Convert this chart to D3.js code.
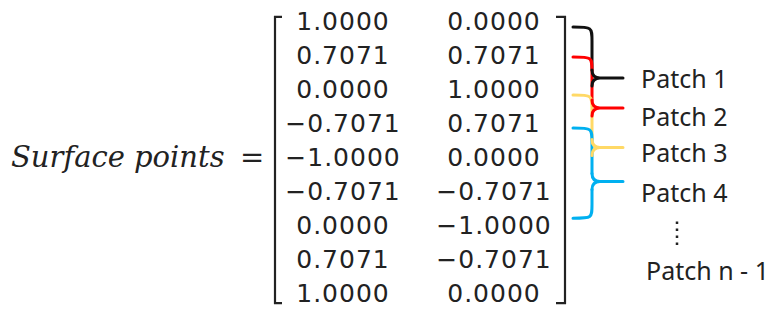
<!DOCTYPE html>
<html>
<head>
<meta charset="utf-8">
<script src="https://cdn.jsdelivr.net/npm/d3@7"></script>
<style>
  body { margin: 0; background: #fff; }
  svg { display: block; }
</style>
</head>
<body>
<svg width="776" height="312"></svg>
<script>
// matrix columns (x, y of each surface point)
const colX = [1.0, 0.7071, 0.0, -0.7071, -1.0, -0.7071, 0.0, 0.7071, 1.0]
const colY = [0.0, 0.7071, 1.0, 0.7071, 0.0, -0.7071, -1.0, -0.7071, 0.0]
const columns = ['x', 'y']

// patches, positions in row units of the matrix
// (only the last brace shows its lower arm, the others are hidden by the next one)
const patchNames = ['Patch 1', 'Patch 2', 'Patch 3', 'Patch 4']
const patchColors = ['#111111', '#ff0000', '#ffd966', '#00b0f0']
const braceTop = [0.18, 1.06, 2.18, 3.15]
const braceTip = [1.68, 2.56, 3.72, 4.72]
const braceBottom = [null, null, null, 5.8]
const labelRow = [1.7, 2.82, 3.88, 5.06]
const lastLabel = 'Patch n - 1'
const lastLabelRow = 7.35

let svg = d3.select('svg')

let fmt = d3.format('.4f')

let yRow = d3.scaleLinear().domain([0, 8]).range([21, 293])
let xCol = d3.scalePoint().domain(columns).range([343, 494])

let rows = colX.map((v, i) => ({i: i, x: v, y: colY[i]}))

// left hand side
svg.append('text')
    .attr('x', 11)
    .attr('y', yRow(4))
    .attr('dy', '0.36em')
    .attr('font-family', 'DejaVu Serif')
    .attr('font-style', 'italic')
    .attr('font-size', 29)
    .attr('fill', '#222')
    .text('Surface points')

svg.append('text')
    .attr('x', 240)
    .attr('y', yRow(4))
    .attr('dy', '0.36em')
    .attr('font-family', 'DejaVu Serif')
    .attr('font-size', 29)
    .attr('fill', '#222')
    .text('=')

// brackets
let bTop = yRow(-0.12), bBot = yRow(8.3)
let brackets = svg.append('g')
    .attr('fill', 'none')
    .attr('stroke', '#222')
    .attr('stroke-width', 2.2)

brackets.append('path')
    .attr('d', `M282,${bTop} H275 V${bBot} H282`)
brackets.append('path')
    .attr('d', `M556,${bTop} H565 V${bBot} H556`)

// matrix entries
let cells = svg.append('g')
    .attr('font-family', 'DejaVu Sans')
    .attr('font-size', 25)
    .attr('letter-spacing', 1)
    .attr('text-anchor', 'middle')
    .attr('fill', '#222')

columns.forEach(c => {
    cells.selectAll('text.c' + c)
        .data(rows)
        .enter().append('text')
        .attr('class', 'c' + c)
        .attr('x', xCol(c))
        .attr('y', d => yRow(d.i))
        .attr('dy', '0.36em')
        .text(d => fmt(d[c]))
})

// curly braces
let x0 = 573, xv = 592, xt = 623, r = 14, rt = 8
let patches = patchNames.map((n, i) => ({
    name: n,
    color: patchColors[i],
    top: yRow(braceTop[i]),
    tip: yRow(braceTip[i]),
    bot: braceBottom[i] == null ? null : yRow(braceBottom[i]),
    label: yRow(labelRow[i])
}))

let braces = svg.append('g')
    .attr('fill', 'none')
    .attr('stroke-width', 3)
    .attr('stroke-linecap', 'round')

braces.selectAll('path.arm')
    .data(patches)
    .enter().append('path')
    .attr('class', 'arm')
    .attr('stroke', d => d.color)
    .attr('d', d => {
        let p = `M${x0},${d.top} C${xv},${d.top} ${xv},${d.top} ${xv},${d.top + r} V${d.tip - rt}`
        if (d.bot != null) {
            p += ` M${xv},${d.tip + rt} V${d.bot - r} C${xv},${d.bot} ${xv},${d.bot} ${x0},${d.bot}`
        }
        return p
    })

braces.selectAll('path.tip')
    .data(patches)
    .enter().append('path')
    .attr('class', 'tip')
    .attr('stroke', d => d.color)
    .attr('d', d => `M${xv},${d.tip - rt} Q${xv},${d.tip} ${xv + rt},${d.tip} H${xt}`
        + ` M${xv + rt},${d.tip} Q${xv},${d.tip} ${xv},${d.tip + rt}`)

// labels
let labels = svg.append('g')
    .attr('font-family', 'Noto Sans')
    .attr('font-size', 25)
    .attr('fill', '#222')

labels.selectAll('text')
    .data(patches)
    .enter().append('text')
    .attr('x', 641)
    .attr('y', d => d.label)
    .attr('dy', '0.36em')
    .text(d => d.name)

labels.append('text')
    .attr('x', 646)
    .attr('y', yRow(lastLabelRow))
    .attr('dy', '0.36em')
    .text(lastLabel)

// vertical ellipsis
svg.append('line')
    .attr('x1', 677).attr('x2', 677)
    .attr('y1', yRow(5.9)).attr('y2', yRow(6.65))
    .attr('stroke', '#222')
    .attr('stroke-width', 2.5)
    .attr('stroke-dasharray', '2.5,4.5')
</script>
</body>
</html>
